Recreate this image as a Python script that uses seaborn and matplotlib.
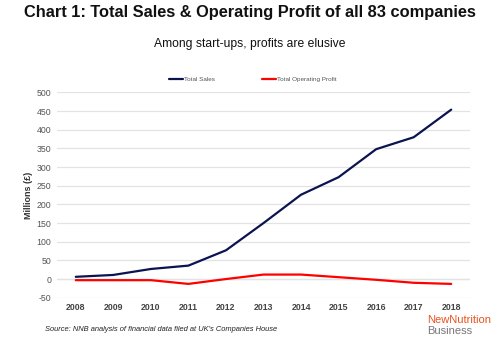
import matplotlib
matplotlib.use("Agg")
import matplotlib.pyplot as plt
import seaborn as sns
import pandas as pd
from matplotlib.lines import Line2D

years = ["2008", "2009", "2010", "2011", "2012", "2013", "2014", "2015", "2016", "2017", "2018"]
total_sales = [6, 11, 27, 36, 77, 150, 226, 273, 348, 380, 454]
operating_profit = [-3, -3, -3, -13, 0, 12, 12, 5, -2, -10, -13]
series_names = ["Total Sales", "Total Operating Profit"]
y_ticks = [-50, 0, 50, 100, 150, 200, 250, 300, 350, 400, 450, 500]

sns.set_theme(style="white")
plt.rcParams['font.family'] = ['Liberation Sans', 'DejaVu Sans']

df = pd.DataFrame({
    "Year": years * 2,
    "idx": list(range(len(years))) * 2,
    "Value": total_sales + operating_profit,
    "Series": [series_names[0]] * len(years) + [series_names[1]] * len(years),
})

fig = plt.figure(figsize=(5.0, 3.37), dpi=100)
ax = fig.add_axes([0.114, 0.1166, 0.826, 0.609])

sns.lineplot(data=df, x="idx", y="Value", hue="Series",
             palette={series_names[0]: "#0b1450", series_names[1]: "#ff0000"},
             linewidth=1.6, ax=ax, legend=False)

ax.set_xlim(-0.5, len(years) - 0.5)
ax.set_ylim(-50, 500)
ax.set_yticks(y_ticks)
ax.set_yticklabels([str(v) for v in y_ticks], fontsize=6.3, color="#555555")
ax.set_xticks(range(len(years)))
ax.set_xticklabels(years, fontsize=6.3, color="#444444", fontweight="bold")
ax.tick_params(axis="both", length=0, pad=4)
ax.grid(axis="y", color="#e3e3e3", linewidth=0.9)
ax.set_axisbelow(True)
for s in ax.spines.values():
    s.set_visible(False)
ax.axhline(0, color="#d9d9d9", linewidth=0.9, zorder=0)
ax.set_xlabel("")
ax.set_ylabel("Millions (£)", fontsize=6.5, fontweight="bold", color="#333333", labelpad=3)

# legend
handles = [Line2D([0], [0], color="#0b1450", lw=1.6), Line2D([0], [0], color="#ff0000", lw=1.6)]
fig.legend(handles, series_names, loc="center", bbox_to_anchor=(0.506, 0.765), ncol=2,
           frameon=False, fontsize=4.6, handlelength=2.2, handletextpad=0.15, columnspacing=7.4,
           labelcolor="#555555")

fig.text(0.5, 0.963, "Chart 1: Total Sales & Operating Profit of all 83 companies",
         ha="center", va="center", fontsize=11.8, fontweight="bold", color="#111111")
fig.text(0.5, 0.868, "Among start-ups, profits are elusive", ha="center", va="center",
         fontsize=8.7, color="#111111")
fig.text(0.09, 0.022, "Source: NNB analysis of financial data filed at UK's Companies House",
         ha="left", va="center", fontsize=5.45, style="italic", color="#222222")
fig.text(0.855, 0.05, "NewNutrition", ha="left", va="center", fontsize=8, color="#e8521e")
fig.text(0.855, 0.018, "Business", ha="left", va="center", fontsize=8, color="#777777")

fig.savefig("out.png", dpi=100)
